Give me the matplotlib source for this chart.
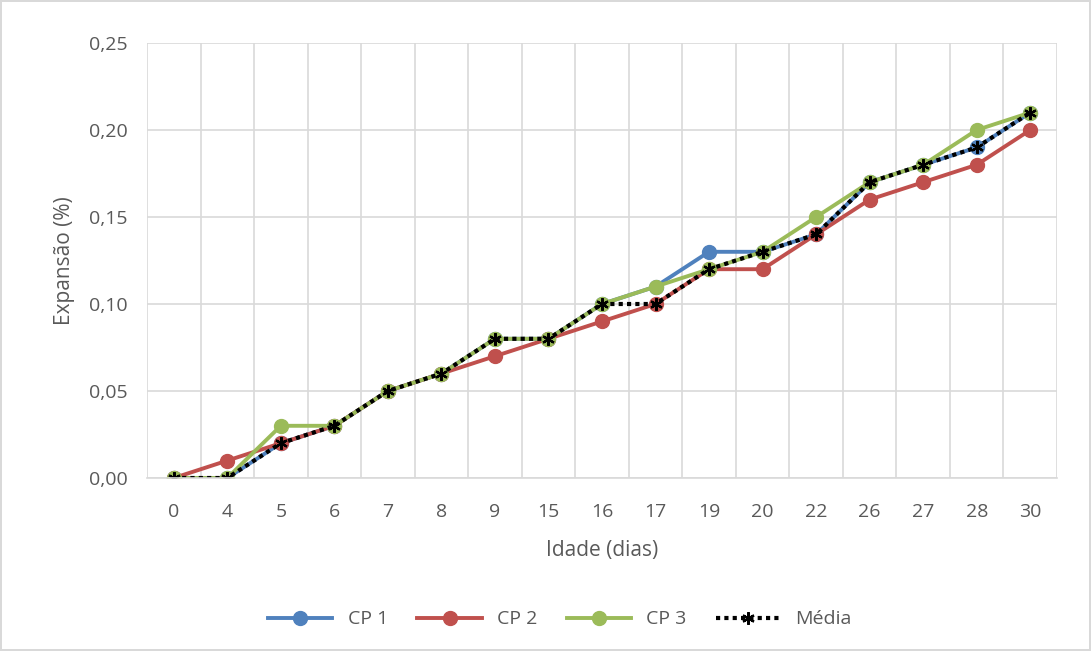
import matplotlib.pyplot as plt
import numpy as np

plt.rcParams['font.family'] = ['Open Sans', 'DejaVu Sans']

idade = ['0', '4', '5', '6', '7', '8', '9', '15', '16', '17', '19', '20', '22', '26', '27', '28', '30']
cp1 = [0, 0, 0.02, 0.03, 0.05, 0.06, 0.08, 0.08, 0.10, 0.11, 0.13, 0.13, 0.14, 0.17, 0.18, 0.19, 0.21]
cp2 = [0, 0.01, 0.02, 0.03, 0.05, 0.06, 0.07, 0.08, 0.09, 0.10, 0.12, 0.12, 0.14, 0.16, 0.17, 0.18, 0.20]
cp3 = [0, 0, 0.03, 0.03, 0.05, 0.06, 0.08, 0.08, 0.10, 0.11, 0.12, 0.13, 0.15, 0.17, 0.18, 0.20, 0.21]
media = [0, 0, 0.02, 0.03, 0.05, 0.06, 0.08, 0.08, 0.10, 0.10, 0.12, 0.13, 0.14, 0.17, 0.18, 0.19, 0.21]

txt = '#595959'
grid = '#D9D9D9'

fig = plt.figure(figsize=(10.91, 6.51), dpi=100)
fig.patch.set_edgecolor(grid)
fig.patch.set_linewidth(1.5)
ax = fig.add_axes([147 / 1091, 1 - 478 / 651, (1057 - 147) / 1091, (478 - 43) / 651])

x = np.arange(len(idade))
ax.plot(x, cp1, color='#4F81BD', lw=2.8, marker='o', ms=10, label='CP 1')
ax.plot(x, cp2, color='#C0504D', lw=2.8, marker='o', ms=10, label='CP 2')
ax.plot(x, cp3, color='#9BBB59', lw=2.8, marker='o', ms=10, label='CP 3')
ax.plot(x, media, color='black', lw=3, ls=(0, (1, 1)), marker=(6, 2, 0), ms=9,
        mew=1.6, label='Média')

ax.set_xlim(-0.5, len(idade) - 0.5)
ax.set_ylim(0, 0.25)
ax.set_xticks(x)
ax.set_xticklabels(idade)
yt = np.arange(0, 0.251, 0.05)
ax.set_yticks(yt)
ax.set_yticklabels([f'{v:.2f}'.replace('.', ',') for v in yt])
ax.set_xticks(np.arange(-0.5, len(idade), 1), minor=True)
ax.grid(True, which='major', axis='y', color=grid, lw=1.2)
ax.grid(True, which='minor', axis='x', color=grid, lw=1.2)
ax.set_axisbelow(True)
for s in ['top', 'right', 'left']:
    ax.spines[s].set_visible(False)
ax.spines['bottom'].set_color(grid)
ax.spines['bottom'].set_linewidth(1.2)
ax.tick_params(which='both', length=0, labelsize=14, labelcolor=txt)
ax.tick_params(axis='x', pad=18)
ax.tick_params(axis='y', pad=14)

ax.set_xlabel('Idade (dias)', fontsize=15, color=txt, labelpad=14)
ax.set_ylabel('Expansão (%)', fontsize=15, color=txt, labelpad=10)

ax.legend(loc='center', bbox_to_anchor=(0.454, -0.325), ncol=4, frameon=False,
          fontsize=14, labelcolor=txt, handlelength=3.3, columnspacing=1.5)

fig.savefig('out.png', dpi=100)
